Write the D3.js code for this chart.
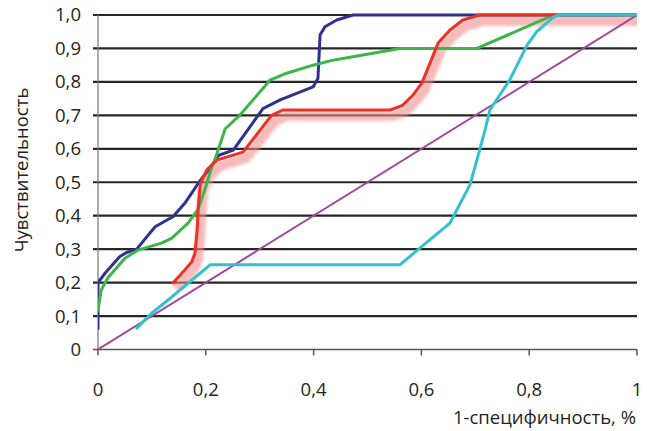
<!DOCTYPE html>
<html><head><meta charset="utf-8">
<script src="https://cdn.jsdelivr.net/npm/d3@7"></script>
<style>
html,body{margin:0;padding:0;background:#fff;}
svg{display:block;font-family:"Open Sans",sans-serif;}
</style></head>
<body><svg id="c" width="647" height="431"></svg>
<script>
const yTicks = [0,0.1,0.2,0.3,0.4,0.5,0.6,0.7,0.8,0.9,1.0];
const yTickLabels = ["0","0,1","0,2","0,3","0,4","0,5","0,6","0,7","0,8","0,9","1,0"];
const xTicks = [0,0.2,0.4,0.6,0.8,1];
const xTickLabels = ["0","0,2","0,4","0,6","0,8","1"];
const xTitle = "1-специфичность, %";
const yTitle = "Чувствительность";

const diagonalX = [0,1];
const diagonalY = [0,1];

const blueX = [0,0,0.013,0.04,0.053,0.072,0.087,0.106,0.128,0.139,0.161,0.186,0.211,0.223,0.251,0.306,0.338,0.399,0.408,0.412,0.421,0.443,0.473,1];
const blueY = [0.063,0.2,0.228,0.277,0.29,0.30,0.33,0.367,0.387,0.397,0.437,0.497,0.55,0.58,0.596,0.72,0.746,0.785,0.81,0.94,0.965,0.985,1,1];

const greenX = [0,0.006,0.018,0.05,0.074,0.118,0.137,0.167,0.185,0.198,0.208,0.221,0.236,0.263,0.319,0.35,0.399,0.436,0.56,0.703,0.845];
const greenY = [0.118,0.178,0.214,0.273,0.297,0.318,0.333,0.378,0.417,0.477,0.53,0.587,0.66,0.70,0.805,0.826,0.85,0.865,0.90,0.90,1.0];

const redX = [0.139,0.161,0.174,0.18,0.184,0.186,0.19,0.202,0.221,0.269,0.322,0.343,0.542,0.565,0.584,0.601,0.616,0.631,0.653,0.677,0.709,1];
const redY = [0.199,0.238,0.262,0.288,0.357,0.426,0.497,0.537,0.567,0.59,0.70,0.716,0.716,0.73,0.76,0.797,0.856,0.916,0.955,0.985,1.0,1.0];

const cyanX = [0.072,0.1,0.13,0.208,0.56,0.597,0.653,0.69,0.703,0.718,0.727,0.764,0.796,0.814,0.845,0.857,1];
const cyanY = [0.064,0.109,0.148,0.253,0.253,0.303,0.378,0.492,0.566,0.656,0.716,0.806,0.91,0.95,0.994,1.0,1.0];

const svg = d3.select("#c");
const x = d3.scaleLinear().domain([0,1]).range([98,637]);
const y = d3.scaleLinear().domain([0,1]).range([349.5,15]);

const defs = svg.append("defs");
const f = defs.append("filter").attr("id","blur").attr("x","-10%").attr("y","-10%").attr("width","120%").attr("height","120%");
f.append("feGaussianBlur").attr("stdDeviation",1.8);

const clip = defs.append("clipPath").attr("id","clip");
clip.append("rect").attr("x",x(0)).attr("y",y(1)-6).attr("width",x(1)-x(0)).attr("height",y(0)-y(1)+12);

// gridlines
svg.append("g").selectAll("line").data(yTicks.filter(d=>d>0)).join("line")
  .attr("x1",93).attr("x2",x(1)).attr("y1",d=>y(d)).attr("y2",d=>y(d))
  .attr("stroke","#262626").attr("stroke-width",2.2);

// y axis line
svg.append("line").attr("x1",x(0)).attr("x2",x(0)).attr("y1",y(1)).attr("y2",y(0))
  .attr("stroke","#777").attr("stroke-width",1.2);
// x axis
svg.append("line").attr("x1",93).attr("x2",x(1)).attr("y1",y(0)).attr("y2",y(0))
  .attr("stroke","#555").attr("stroke-width",1.5);
svg.append("g").selectAll("line").data(xTicks).join("line")
  .attr("x1",d=>x(d)).attr("x2",d=>x(d)).attr("y1",y(0)).attr("y2",y(0)+6)
  .attr("stroke","#555").attr("stroke-width",1.5);

// tick labels
svg.append("g").selectAll("text").data(yTicks).join("text")
  .attr("x",81).attr("y",d=>y(d)).attr("dy","0.35em")
  .attr("text-anchor","end").attr("font-size",18.5).attr("fill","#231f20")
  .text((d,i)=>yTickLabels[i]);
svg.append("g").selectAll("text").data(xTicks).join("text")
  .attr("x",d=>x(d)).attr("y",390).attr("dy","0.35em")
  .attr("text-anchor","middle").attr("font-size",18.5).attr("fill","#231f20")
  .text((d,i)=>xTickLabels[i]);

svg.append("text").attr("x",636).attr("y",418).attr("dy","0.35em")
  .attr("text-anchor","end").attr("font-size",18.5).attr("fill","#231f20").text(xTitle);
svg.append("text").attr("transform","translate(22,170) rotate(-90)").attr("dy","0.35em")
  .attr("text-anchor","middle").attr("font-size",18.5).attr("fill","#231f20").text(yTitle);

const line = d3.line().x(d=>x(d[0])).y(d=>y(d[1]));
const zip = (a,b)=>a.map((v,i)=>[v,b[i]]);

const g = svg.append("g").attr("clip-path","url(#clip)");
// red shadow/glow
g.append("path").datum(zip(redX,redY)).attr("d",line)
  .attr("transform","translate(3,6)")
  .attr("fill","none").attr("stroke","#f28c8c").attr("stroke-opacity",0.6)
  .attr("stroke-width",10).attr("stroke-linejoin","round").attr("filter","url(#blur)");

g.append("path").datum(zip(diagonalX,diagonalY)).attr("d",line)
  .attr("fill","none").attr("stroke","#a3479b").attr("stroke-width",2);

const series = [
  [blueX,blueY,"#2e3192"],
  [greenX,greenY,"#3db54a"],
  [redX,redY,"#ec3224"],
  [cyanX,cyanY,"#33c1d0"]
];
series.forEach(s=>{
  g.append("path").datum(zip(s[0],s[1])).attr("d",line)
    .attr("fill","none").attr("stroke",s[2]).attr("stroke-width",3)
    .attr("stroke-linejoin","round").attr("stroke-linecap","round");
});
</script></body></html>
